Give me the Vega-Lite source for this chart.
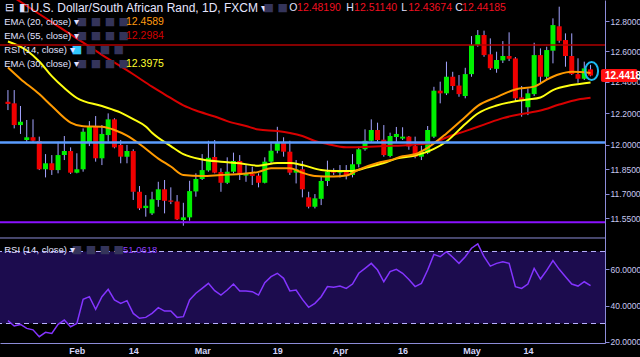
{
"$schema": "https://vega.github.io/schema/vega-lite/v6.json",
"width": 605, "height": 343,
"autosize": {"type": "none"},
"padding": {"left": 0, "top": 0, "right": 35, "bottom": 14},
"background": "#000000",
"config": {"view": {"stroke": null}, "font": "Liberation Sans"},
"datasets": {
"candles": [
{"i":0,"o":12.273,"h":12.348,"l":12.220,"c":12.259},
{"i":1,"o":12.263,"h":12.348,"l":12.104,"c":12.125},
{"i":2,"o":12.125,"h":12.246,"l":12.069,"c":12.146},
{"i":3,"o":12.031,"h":12.157,"l":12.014,"c":12.048},
{"i":4,"o":12.048,"h":12.161,"l":12.020,"c":12.026},
{"i":5,"o":12.025,"h":12.052,"l":11.844,"c":11.849},
{"i":6,"o":11.849,"h":11.943,"l":11.799,"c":11.886},
{"i":7,"o":11.886,"h":11.937,"l":11.814,"c":11.844},
{"i":8,"o":11.844,"h":12.020,"l":11.824,"c":11.937},
{"i":9,"o":11.937,"h":12.056,"l":11.906,"c":11.962},
{"i":10,"o":11.962,"h":11.985,"l":11.820,"c":11.828},
{"i":11,"o":11.828,"h":11.948,"l":11.824,"c":11.849},
{"i":12,"o":11.849,"h":12.104,"l":11.834,"c":12.083},
{"i":13,"o":12.014,"h":12.150,"l":11.993,"c":12.119},
{"i":14,"o":12.119,"h":12.182,"l":11.896,"c":11.917},
{"i":15,"o":11.917,"h":12.125,"l":11.875,"c":12.069},
{"i":16,"o":12.062,"h":12.199,"l":12.020,"c":12.161},
{"i":17,"o":12.161,"h":12.168,"l":11.979,"c":11.985},
{"i":18,"o":12.000,"h":12.031,"l":11.886,"c":11.927},
{"i":19,"o":11.927,"h":12.000,"l":11.886,"c":11.962},
{"i":20,"o":11.962,"h":11.973,"l":11.661,"c":11.711},
{"i":21,"o":11.711,"h":11.746,"l":11.600,"c":11.610},
{"i":22,"o":11.612,"h":11.691,"l":11.560,"c":11.626},
{"i":23,"o":11.580,"h":11.711,"l":11.570,"c":11.665},
{"i":24,"o":11.661,"h":11.772,"l":11.620,"c":11.726},
{"i":25,"o":11.726,"h":11.783,"l":11.580,"c":11.656},
{"i":26,"o":11.658,"h":11.738,"l":11.636,"c":11.650},
{"i":27,"o":11.652,"h":11.691,"l":11.540,"c":11.544},
{"i":28,"o":11.540,"h":11.644,"l":11.506,"c":11.556},
{"i":29,"o":11.556,"h":11.778,"l":11.536,"c":11.715},
{"i":30,"o":11.713,"h":11.824,"l":11.681,"c":11.789},
{"i":31,"o":11.789,"h":11.943,"l":11.783,"c":11.844},
{"i":32,"o":11.842,"h":12.026,"l":11.834,"c":11.920},
{"i":33,"o":11.925,"h":12.031,"l":11.824,"c":11.828},
{"i":34,"o":11.832,"h":11.855,"l":11.711,"c":11.766},
{"i":35,"o":11.766,"h":11.923,"l":11.758,"c":11.834},
{"i":36,"o":11.834,"h":11.952,"l":11.824,"c":11.900},
{"i":37,"o":11.900,"h":11.937,"l":11.783,"c":11.814},
{"i":38,"o":11.810,"h":11.875,"l":11.772,"c":11.824},
{"i":39,"o":11.822,"h":11.865,"l":11.752,"c":11.808},
{"i":40,"o":11.810,"h":11.824,"l":11.738,"c":11.766},
{"i":41,"o":11.766,"h":11.923,"l":11.762,"c":11.896},
{"i":42,"o":11.896,"h":12.010,"l":11.886,"c":11.964},
{"i":43,"o":11.964,"h":12.114,"l":11.948,"c":12.014},
{"i":44,"o":12.014,"h":12.048,"l":11.927,"c":11.958},
{"i":45,"o":11.958,"h":12.026,"l":11.814,"c":11.828},
{"i":46,"o":11.828,"h":11.906,"l":11.762,"c":11.849},
{"i":47,"o":11.849,"h":11.900,"l":11.677,"c":11.726},
{"i":48,"o":11.677,"h":11.711,"l":11.610,"c":11.620},
{"i":49,"o":11.620,"h":11.697,"l":11.610,"c":11.671},
{"i":50,"o":11.668,"h":11.803,"l":11.630,"c":11.777},
{"i":51,"o":11.777,"h":11.902,"l":11.746,"c":11.834},
{"i":52,"o":11.840,"h":11.855,"l":11.814,"c":11.828},
{"i":53,"o":11.828,"h":11.875,"l":11.799,"c":11.844},
{"i":54,"o":11.844,"h":11.875,"l":11.787,"c":11.814},
{"i":55,"o":11.814,"h":11.943,"l":11.799,"c":11.880},
{"i":56,"o":11.880,"h":11.989,"l":11.861,"c":11.973},
{"i":57,"o":11.973,"h":12.098,"l":11.964,"c":12.026},
{"i":58,"o":12.026,"h":12.161,"l":12.020,"c":12.094},
{"i":59,"o":12.094,"h":12.140,"l":12.020,"c":12.031},
{"i":60,"o":12.033,"h":12.125,"l":11.927,"c":11.937},
{"i":61,"o":11.931,"h":12.077,"l":11.923,"c":12.056},
{"i":62,"o":12.050,"h":12.113,"l":12.018,"c":12.069},
{"i":63,"o":12.040,"h":12.111,"l":12.031,"c":12.052},
{"i":64,"o":12.052,"h":12.056,"l":11.970,"c":11.990},
{"i":65,"o":11.993,"h":12.052,"l":11.917,"c":11.927},
{"i":66,"o":11.927,"h":11.995,"l":11.906,"c":11.958},
{"i":67,"o":11.951,"h":12.119,"l":11.943,"c":12.094},
{"i":68,"o":12.052,"h":12.369,"l":12.043,"c":12.344},
{"i":69,"o":12.344,"h":12.402,"l":12.263,"c":12.327},
{"i":70,"o":12.327,"h":12.532,"l":12.316,"c":12.434},
{"i":71,"o":12.434,"h":12.466,"l":12.348,"c":12.374},
{"i":72,"o":12.377,"h":12.445,"l":12.305,"c":12.322},
{"i":73,"o":12.310,"h":12.492,"l":12.295,"c":12.451},
{"i":74,"o":12.451,"h":12.700,"l":12.434,"c":12.641},
{"i":75,"o":12.641,"h":12.740,"l":12.630,"c":12.707},
{"i":76,"o":12.707,"h":12.736,"l":12.564,"c":12.575},
{"i":77,"o":12.580,"h":12.685,"l":12.478,"c":12.489},
{"i":78,"o":12.485,"h":12.597,"l":12.460,"c":12.543},
{"i":79,"o":12.540,"h":12.667,"l":12.523,"c":12.569},
{"i":80,"o":12.569,"h":12.725,"l":12.536,"c":12.551},
{"i":81,"o":12.553,"h":12.562,"l":12.273,"c":12.295},
{"i":82,"o":12.301,"h":12.374,"l":12.178,"c":12.280},
{"i":83,"o":12.238,"h":12.359,"l":12.188,"c":12.327},
{"i":84,"o":12.322,"h":12.656,"l":12.310,"c":12.575},
{"i":85,"o":12.575,"h":12.619,"l":12.391,"c":12.434},
{"i":86,"o":12.434,"h":12.630,"l":12.413,"c":12.608},
{"i":87,"o":12.604,"h":12.818,"l":12.521,"c":12.773},
{"i":88,"o":12.765,"h":12.896,"l":12.656,"c":12.669},
{"i":89,"o":12.674,"h":12.718,"l":12.499,"c":12.569},
{"i":90,"o":12.569,"h":12.718,"l":12.445,"c":12.451},
{"i":91,"o":12.451,"h":12.554,"l":12.395,"c":12.421},
{"i":92,"o":12.421,"h":12.532,"l":12.413,"c":12.488},
{"i":93,"o":12.4819,"h":12.5114,"l":12.43674,"c":12.44185}
],
"ema": [
{"s":"20","i":0,"v":12.494},{"s":"20","i":2,"v":12.420},{"s":"20","i":5,"v":12.322},{"s":"20","i":7,"v":12.246},{"s":"20","i":10,"v":12.141},{"s":"20","i":12,"v":12.117},{"s":"20","i":15,"v":12.114},{"s":"20","i":17,"v":12.094},{"s":"20","i":19,"v":12.058},{"s":"20","i":21,"v":12.006},{"s":"20","i":24,"v":11.915},{"s":"20","i":26,"v":11.866},{"s":"20","i":28,"v":11.814},{"s":"20","i":31,"v":11.807},{"s":"20","i":34,"v":11.814},{"s":"20","i":37,"v":11.820},{"s":"20","i":40,"v":11.833},{"s":"20","i":42,"v":11.855},{"s":"20","i":45,"v":11.855},{"s":"20","i":47,"v":11.828},{"s":"20","i":49,"v":11.808},{"s":"20","i":52,"v":11.804},{"s":"20","i":54,"v":11.810},{"s":"20","i":56,"v":11.847},{"s":"20","i":59,"v":11.888},{"s":"20","i":61,"v":11.905},{"s":"20","i":63,"v":11.930},{"s":"20","i":65,"v":11.942},{"s":"20","i":67,"v":11.982},{"s":"20","i":70,"v":12.072},{"s":"20","i":73,"v":12.176},{"s":"20","i":75,"v":12.247},{"s":"20","i":78,"v":12.303},{"s":"20","i":81,"v":12.352},{"s":"20","i":84,"v":12.370},{"s":"20","i":86,"v":12.415},{"s":"20","i":88,"v":12.450},{"s":"20","i":90,"v":12.466},{"s":"20","i":93,"v":12.4589},
{"s":"30","i":0,"v":12.664},{"s":"30","i":3,"v":12.605},{"s":"30","i":5,"v":12.533},{"s":"30","i":7,"v":12.438},{"s":"30","i":9,"v":12.361},{"s":"30","i":11,"v":12.297},{"s":"30","i":15,"v":12.246},{"s":"30","i":18,"v":12.204},{"s":"30","i":20,"v":12.163},{"s":"30","i":22,"v":12.116},{"s":"30","i":23,"v":12.077},{"s":"30","i":26,"v":11.993},{"s":"30","i":28,"v":11.943},{"s":"30","i":31,"v":11.910},{"s":"30","i":34,"v":11.896},{"s":"30","i":37,"v":11.886},{"s":"30","i":40,"v":11.871},{"s":"30","i":43,"v":11.888},{"s":"30","i":45,"v":11.888},{"s":"30","i":47,"v":11.875},{"s":"30","i":50,"v":11.844},{"s":"30","i":52,"v":11.838},{"s":"30","i":55,"v":11.838},{"s":"30","i":57,"v":11.857},{"s":"30","i":60,"v":11.888},{"s":"30","i":62,"v":11.915},{"s":"30","i":65,"v":11.934},{"s":"30","i":68,"v":11.975},{"s":"30","i":70,"v":12.022},{"s":"30","i":73,"v":12.132},{"s":"30","i":75,"v":12.198},{"s":"30","i":78,"v":12.249},{"s":"30","i":81,"v":12.276},{"s":"30","i":83,"v":12.287},{"s":"30","i":85,"v":12.300},{"s":"30","i":87,"v":12.348},{"s":"30","i":90,"v":12.380},{"s":"30","i":93,"v":12.3975},
{"s":"55","i":0,"v":12.984},{"s":"55","i":5,"v":12.847},{"s":"55","i":10,"v":12.711},{"s":"55","i":15,"v":12.577},{"s":"55","i":20,"v":12.450},{"s":"55","i":23,"v":12.370},{"s":"55","i":25,"v":12.321},{"s":"55","i":28,"v":12.250},{"s":"55","i":30,"v":12.217},{"s":"55","i":33,"v":12.179},{"s":"55","i":35,"v":12.150},{"s":"55","i":38,"v":12.119},{"s":"55","i":40,"v":12.097},{"s":"55","i":43,"v":12.087},{"s":"55","i":45,"v":12.075},{"s":"55","i":47,"v":12.056},{"s":"55","i":49,"v":12.025},{"s":"55","i":51,"v":12.006},{"s":"55","i":54,"v":11.985},{"s":"55","i":57,"v":11.987},{"s":"55","i":60,"v":11.993},{"s":"55","i":63,"v":11.997},{"s":"55","i":66,"v":12.006},{"s":"55","i":68,"v":12.015},{"s":"55","i":70,"v":12.047},{"s":"55","i":73,"v":12.087},{"s":"55","i":76,"v":12.128},{"s":"55","i":79,"v":12.169},{"s":"55","i":82,"v":12.195},{"s":"55","i":85,"v":12.217},{"s":"55","i":88,"v":12.255},{"s":"55","i":91,"v":12.287},{"s":"55","i":93,"v":12.2984}
],
"rsi": [
{"i":0,"v":31.6},{"i":1,"v":28.6},{"i":2,"v":29.5},{"i":3,"v":27.3},{"i":4,"v":26.5},{"i":5,"v":22.7},{"i":6,"v":25.1},{"i":7,"v":24.5},{"i":8,"v":29.5},{"i":9,"v":31.9},{"i":10,"v":28.2},{"i":11,"v":30.0},{"i":12,"v":43.4},{"i":13,"v":44.9},{"i":14,"v":37.9},{"i":15,"v":44.9},{"i":16,"v":49.0},{"i":17,"v":43.1},{"i":18,"v":41.2},{"i":19,"v":42.7},{"i":20,"v":35.6},{"i":21,"v":32.9},{"i":22,"v":33.4},{"i":23,"v":35.6},{"i":24,"v":38.8},{"i":25,"v":36.9},{"i":26,"v":36.9},{"i":27,"v":33.4},{"i":28,"v":33.8},{"i":29,"v":43.1},{"i":30,"v":46.8},{"i":31,"v":49.5},{"i":32,"v":52.3},{"i":33,"v":48.2},{"i":34,"v":45.8},{"i":35,"v":48.6},{"i":36,"v":51.9},{"i":37,"v":48.1},{"i":38,"v":48.1},{"i":39,"v":47.7},{"i":40,"v":45.8},{"i":41,"v":52.7},{"i":42,"v":56.0},{"i":43,"v":57.9},{"i":44,"v":55.1},{"i":45,"v":48.1},{"i":46,"v":48.6},{"i":47,"v":43.4},{"i":48,"v":39.0},{"i":49,"v":41.2},{"i":50,"v":44.9},{"i":51,"v":50.5},{"i":52,"v":50.1},{"i":53,"v":50.8},{"i":54,"v":49.5},{"i":55,"v":51.9},{"i":56,"v":57.9},{"i":57,"v":60.6},{"i":58,"v":63.4},{"i":59,"v":59.7},{"i":60,"v":53.2},{"i":61,"v":58.8},{"i":62,"v":60.1},{"i":63,"v":57.9},{"i":64,"v":54.5},{"i":65,"v":50.5},{"i":66,"v":52.3},{"i":67,"v":59.7},{"i":68,"v":68.4},{"i":69,"v":67.1},{"i":70,"v":69.9},{"i":71,"v":66.8},{"i":72,"v":63.4},{"i":73,"v":67.1},{"i":74,"v":71.8},{"i":75,"v":74.2},{"i":76,"v":67.1},{"i":77,"v":61.9},{"i":78,"v":63.4},{"i":79,"v":64.3},{"i":80,"v":63.4},{"i":81,"v":50.5},{"i":82,"v":49.5},{"i":83,"v":51.9},{"i":84,"v":60.6},{"i":85,"v":54.7},{"i":86,"v":59.5},{"i":87,"v":64.9},{"i":88,"v":60.1},{"i":89,"v":56.0},{"i":90,"v":51.9},{"i":91,"v":50.8},{"i":92,"v":53.2},{"i":93,"v":51.06}
],
"levels": [
{"name":"resistance","p":12.641},
{"name":"pivot","p":12.015},
{"name":"support","p":11.526}
],
"rsiBands": [{"top":70,"bottom":30}],
"rsiLines": [{"v":70},{"v":30}],
"divider": [{"v":77.5}],
"title": [{"i":3.61,"p":12.8904,"t":"U.S. Dollar/South African Rand, 1D, FXCM ▾"}],
"labels": [
{"i":-0.47,"p":12.8904,"t":"⊟","k":"w"},
{"i":1.73,"p":12.8904,"t":"◧","k":"w"},
{"i":44.9,"p":12.8904,"t":"O","k":"w"},
{"i":46.15,"p":12.8904,"t":"12.48190","k":"r"},
{"i":54.0,"p":12.8904,"t":"H","k":"w"},
{"i":55.26,"p":12.8904,"t":"12.51140","k":"r"},
{"i":62.8,"p":12.8904,"t":"L","k":"w"},
{"i":63.9,"p":12.8904,"t":"12.43674","k":"r"},
{"i":71.4,"p":12.8904,"t":"C","k":"w"},
{"i":72.5,"p":12.8904,"t":"12.44185","k":"r"},
{"i":18.84,"p":12.7934,"t":"12.4589","k":"o"},
{"i":18.84,"p":12.7004,"t":"12.2984","k":"d"},
{"i":18.84,"p":12.5166,"t":"12.3975","k":"y"}
],
"legend": [
{"i":-0.6,"p":12.7934,"t":"EMA (20, close) ▾","k":"w"},
{"i":-0.6,"p":12.7004,"t":"EMA (55, close) ▾","k":"w"},
{"i":-0.6,"p":12.6081,"t":"RSI (14, close) ▾","k":"w"},
{"i":-0.6,"p":12.5166,"t":"EMA (30, close) ▾","k":"w"}
],
"icons": [
{"i":40.8,"p":12.8904,"t":"■ ■","k":"g"},
{"i":11.0,"p":12.7934,"t":"■ ■ ■ ■","k":"g"},
{"i":11.0,"p":12.7004,"t":"■ ■ ■ ■","k":"g"},
{"i":10.2,"p":12.6081,"t":"■ ■ ■ ■","k":"g"},
{"i":10.2,"p":12.6081,"t":"■","k":"c"},
{"i":11.0,"p":12.5166,"t":"■ ■ ■ ■","k":"g"}
],
"tag": [{"i0":94.66,"i1":100.5,"p0":12.400,"p1":12.484,"i":95.3,"p":12.44185,"t":"12.44185"}],
"marker": [{"i":93.17,"p":12.471}],
"rsiLabels": [
{"i":-0.6,"v":70.8,"t":"RSI (14, close) ▾","k":"w"},
{"i":18.37,"v":70.8,"t":"51.0618","k":"p"}
],
"rsiIcons": [{"i":10.2,"v":70.8,"t":"■ ■ ■ ■","k":"g"}]
},
"layer": [
{
"layer": [
{"data":{"name":"candles"},"mark":{"type":"rule","color":"#a4a4ff","strokeWidth":1},
 "encoding":{
  "x":{"field":"i","type":"quantitative","scale":{"domain":[-0.471,94.51],"nice":false,"zero":false},
   "axis":{"values":[11,20,31,43,53,63,74,83],"labelExpr":"datum.value==11?'Feb':datum.value==20?'14':datum.value==31?'Mar':datum.value==43?'19':datum.value==53?'Apr':datum.value==63?'16':datum.value==74?'May':'14'","labelColor":"#d4d4fa","labelFontWeight":"bold","labelFontSize":9,"labelFont":"Liberation Sans","domainColor":"#8c8cd8","ticks":false,"grid":false,"title":null,"labelPadding":3,"labelFlush":false}},
  "y":{"field":"l","type":"quantitative","scale":{"type":"log","domain":[10.824,12.941],"nice":false,"zero":false},
   "axis":{"orient":"right","values":[11.55,11.7,11.85,12.0,12.2,12.4,12.6,12.8],"format":".5f","labelColor":"#c8c8f0","labelFont":"Liberation Sans","labelFontSize":8.5,"tickColor":"#8c8cd8","tickSize":4,"domainColor":"#8c8cd8","labelPadding":1,"grid":false,"title":null,"labelOverlap":false,"labelFlush":false,"labelBound":false}},
  "y2":{"field":"h"}}},
{"data":{"name":"candles"},"mark":{"type":"bar","width":5,"minBandSize":1.5},
 "encoding":{
  "x":{"field":"i","type":"quantitative","scale":{"domain":[-0.471,94.51],"nice":false,"zero":false}},
  "y":{"field":"o","type":"quantitative","scale":{"type":"log","domain":[10.824,12.941],"nice":false,"zero":false}},
  "y2":{"field":"c"},
  "color":{"condition":{"test":"datum.c >= datum.o","value":"#00f000"},"value":"#f00000"}}},
{"data":{"name":"ema"},"transform":[{"filter":"datum.s=='55'"}],"mark":{"type":"line","color":"#d80000","strokeWidth":2,"interpolate":"monotone","clip":true},
 "encoding":{
  "x":{"field":"i","type":"quantitative","scale":{"domain":[-0.471,94.51],"nice":false,"zero":false}},
  "y":{"field":"v","type":"quantitative","scale":{"type":"log","domain":[10.824,12.941],"nice":false,"zero":false}}}},
{"data":{"name":"ema"},"transform":[{"filter":"datum.s=='30'"}],"mark":{"type":"line","color":"#ffff10","strokeWidth":2,"interpolate":"monotone","clip":true},
 "encoding":{
  "x":{"field":"i","type":"quantitative","scale":{"domain":[-0.471,94.51],"nice":false,"zero":false}},
  "y":{"field":"v","type":"quantitative","scale":{"type":"log","domain":[10.824,12.941],"nice":false,"zero":false}}}},
{"data":{"name":"ema"},"transform":[{"filter":"datum.s=='20'"}],"mark":{"type":"line","color":"#ff9a00","strokeWidth":2,"interpolate":"monotone","clip":true},
 "encoding":{
  "x":{"field":"i","type":"quantitative","scale":{"domain":[-0.471,94.51],"nice":false,"zero":false}},
  "y":{"field":"v","type":"quantitative","scale":{"type":"log","domain":[10.824,12.941],"nice":false,"zero":false}}}},
{"data":{"name":"levels"},"transform":[{"filter":"datum.name=='resistance'"}],"mark":{"type":"rule","color":"#b00000","strokeWidth":1.5},
 "encoding":{"y":{"field":"p","type":"quantitative","scale":{"type":"log","domain":[10.824,12.941],"nice":false,"zero":false}}}},
{"data":{"name":"levels"},"transform":[{"filter":"datum.name=='pivot'"}],"mark":{"type":"rule","color":"#5a9cff","strokeWidth":2.5},
 "encoding":{"y":{"field":"p","type":"quantitative","scale":{"type":"log","domain":[10.824,12.941],"nice":false,"zero":false}}}},
{"data":{"name":"levels"},"transform":[{"filter":"datum.name=='support'"}],"mark":{"type":"rule","color":"#8a10ff","strokeWidth":2},
 "encoding":{"y":{"field":"p","type":"quantitative","scale":{"type":"log","domain":[10.824,12.941],"nice":false,"zero":false}}}},
{"data":{"name":"tag"},"mark":{"type":"rect","color":"#ff1010","cornerRadius":2},
 "encoding":{
  "x":{"field":"i0","type":"quantitative","scale":{"domain":[-0.471,94.51],"nice":false,"zero":false}},
  "x2":{"field":"i1"},
  "y":{"field":"p0","type":"quantitative","scale":{"type":"log","domain":[10.824,12.941],"nice":false,"zero":false}},
  "y2":{"field":"p1"}}},
{"data":{"name":"tag"},"mark":{"type":"text","align":"left","baseline":"middle","color":"#ffffff","fontWeight":"bold","fontSize":10},
 "encoding":{
  "x":{"field":"i","type":"quantitative","scale":{"domain":[-0.471,94.51],"nice":false,"zero":false}},
  "y":{"field":"p","type":"quantitative","scale":{"type":"log","domain":[10.824,12.941],"nice":false,"zero":false}},
  "text":{"field":"t"}}},
{"data":{"name":"marker"},"mark":{"type":"point","shape":"M -0.72 0 A 0.72 1 0 1 1 0.72 0 A 0.72 1 0 1 1 -0.72 0 Z","filled":false,"size":324,"strokeWidth":2,"color":"#1ab8f0","opacity":1},
 "encoding":{
  "x":{"field":"i","type":"quantitative","scale":{"domain":[-0.471,94.51],"nice":false,"zero":false}},
  "y":{"field":"p","type":"quantitative","scale":{"type":"log","domain":[10.824,12.941],"nice":false,"zero":false}}}},
{"data":{"name":"title"},"mark":{"type":"text","align":"left","baseline":"middle","color":"#e6e6ff","fontSize":12},
 "encoding":{
  "x":{"field":"i","type":"quantitative","scale":{"domain":[-0.471,94.51],"nice":false,"zero":false}},
  "y":{"field":"p","type":"quantitative","scale":{"type":"log","domain":[10.824,12.941],"nice":false,"zero":false}},
  "text":{"field":"t"}}},
{"data":{"name":"icons"},"mark":{"type":"text","align":"left","baseline":"middle","fontSize":11,"font":"DejaVu Sans"},
 "encoding":{
  "x":{"field":"i","type":"quantitative","scale":{"domain":[-0.471,94.51],"nice":false,"zero":false}},
  "y":{"field":"p","type":"quantitative","scale":{"type":"log","domain":[10.824,12.941],"nice":false,"zero":false}},
  "text":{"field":"t"},
  "color":{"field":"k","type":"nominal","scale":{"domain":["w","r","o","d","y","g","p","c"],"range":["#e0e0ff","#f01020","#ff9a10","#d00000","#ffff30","#34345a","#8f3fff","#30c8ff"]},"legend":null}}},
{"data":{"name":"legend"},"mark":{"type":"text","align":"left","baseline":"middle","fontSize":9.5},
 "encoding":{
  "x":{"field":"i","type":"quantitative","scale":{"domain":[-0.471,94.51],"nice":false,"zero":false}},
  "y":{"field":"p","type":"quantitative","scale":{"type":"log","domain":[10.824,12.941],"nice":false,"zero":false}},
  "text":{"field":"t"},
  "color":{"field":"k","type":"nominal","scale":{"domain":["w","r","o","d","y","g","p","c"],"range":["#e0e0ff","#f01020","#ff9a10","#d00000","#ffff30","#34345a","#8f3fff","#30c8ff"]},"legend":null}}},
{"data":{"name":"labels"},"mark":{"type":"text","align":"left","baseline":"middle","fontSize":10.5},
 "encoding":{
  "x":{"field":"i","type":"quantitative","scale":{"domain":[-0.471,94.51],"nice":false,"zero":false}},
  "y":{"field":"p","type":"quantitative","scale":{"type":"log","domain":[10.824,12.941],"nice":false,"zero":false}},
  "text":{"field":"t"},
  "color":{"field":"k","type":"nominal","scale":{"domain":["w","r","o","d","y","g","p","c"],"range":["#e0e0ff","#f01020","#ff9a10","#d00000","#ffff30","#34345a","#8f3fff","#30c8ff"]},"legend":null}}}
]
},
{
"layer": [
{"data":{"name":"rsiBands"},"mark":{"type":"rect","color":"#1c0c4e"},
 "encoding":{
  "y":{"field":"top","type":"quantitative","scale":{"domain":[19.17,209.7],"nice":false,"zero":false}},
  "y2":{"field":"bottom"}}},
{"data":{"name":"rsiLines"},"mark":{"type":"rule","color":"#b8b0ff","strokeWidth":1,"strokeDash":[5,4]},
 "encoding":{"y":{"field":"v","type":"quantitative","scale":{"domain":[19.17,209.7],"nice":false,"zero":false}}}},
{"data":{"name":"divider"},"mark":{"type":"rule","color":"#8c8cd8","strokeWidth":1},
 "encoding":{"y":{"field":"v","type":"quantitative","scale":{"domain":[19.17,209.7],"nice":false,"zero":false}}}},
{"data":{"name":"rsi"},"mark":{"type":"line","color":"#8434ff","strokeWidth":1.5},
 "encoding":{
  "x":{"field":"i","type":"quantitative","scale":{"domain":[-0.471,94.51],"nice":false,"zero":false}},
  "y":{"field":"v","type":"quantitative","scale":{"domain":[19.17,209.7],"nice":false,"zero":false},
   "axis":{"orient":"right","values":[20,40,60],"format":".4f","labelColor":"#c8c8f0","labelFont":"Liberation Sans","labelFontSize":8.5,"tickColor":"#8c8cd8","tickSize":4,"domain":false,"labelPadding":1,"grid":false,"title":null,"labelOverlap":false,"labelFlush":false,"labelBound":false}}}},
{"data":{"name":"rsiIcons"},"mark":{"type":"text","align":"left","baseline":"middle","fontSize":11,"font":"DejaVu Sans"},
 "encoding":{
  "x":{"field":"i","type":"quantitative","scale":{"domain":[-0.471,94.51],"nice":false,"zero":false}},
  "y":{"field":"v","type":"quantitative","scale":{"domain":[19.17,209.7],"nice":false,"zero":false}},
  "text":{"field":"t"},
  "color":{"field":"k","type":"nominal","scale":{"domain":["w","r","o","d","y","g","p","c"],"range":["#e0e0ff","#f01020","#ff9a10","#d00000","#ffff30","#34345a","#8f3fff","#30c8ff"]},"legend":null}}},
{"data":{"name":"rsiLabels"},"mark":{"type":"text","align":"left","baseline":"middle","fontSize":9.5},
 "encoding":{
  "x":{"field":"i","type":"quantitative","scale":{"domain":[-0.471,94.51],"nice":false,"zero":false}},
  "y":{"field":"v","type":"quantitative","scale":{"domain":[19.17,209.7],"nice":false,"zero":false}},
  "text":{"field":"t"},
  "color":{"field":"k","type":"nominal","scale":{"domain":["w","r","o","d","y","g","p","c"],"range":["#e0e0ff","#f01020","#ff9a10","#d00000","#ffff30","#34345a","#8f3fff","#30c8ff"]},"legend":null}}}
]
}
],
"resolve": {"scale": {"y": "independent"}}
}
